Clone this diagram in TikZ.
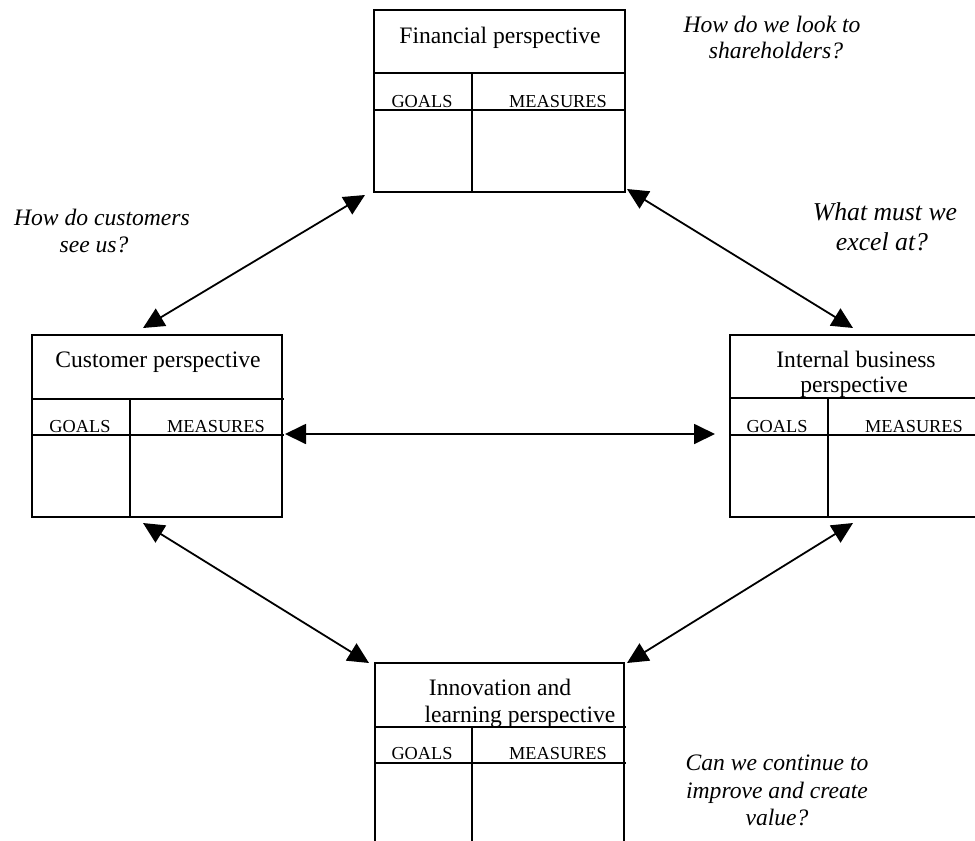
\documentclass[tikz,border=0pt]{standalone}
\usepackage{fontspec}
\setmainfont{Liberation Serif}
\usetikzlibrary{arrows.meta}
\begin{document}
\begin{tikzpicture}[x=1pt,y=-1pt,
  box/.style={draw,line width=1.8pt,inner sep=0pt,outer sep=0pt,anchor=north west},
  rule/.style={line width=1.8pt},
  head/.style={inner sep=0pt,anchor=base,font=\fontsize{23.6}{28}\selectfont},
  col/.style={inner sep=0pt,anchor=base,font=\fontsize{18.3}{22}\selectfont},
  ques/.style={inner sep=0pt,anchor=base,font=\fontsize{23.6}{28}\selectfont\itshape},
  bigques/.style={inner sep=0pt,anchor=base,font=\fontsize{25.7}{30}\selectfont\itshape},
  link/.style={line width=1.8pt,{Triangle[length=21pt,width=20pt]}-{Triangle[length=21pt,width=20pt]}}]
\useasboundingbox (0,0) rectangle (975,841);
\clip (0,0) rectangle (975,841);
\fill[white] (0,0) rectangle (975,841);

% boxes
\node[box,minimum width=251pt,minimum height=182pt] (fin) at (374,10) {};
\node[box,minimum width=250pt,minimum height=182pt] (cust) at (32,335) {};
\node[box,minimum width=262pt,minimum height=182pt] (int) at (730,335) {};
\node[box,minimum width=249pt,minimum height=200pt] (inn) at (375,663) {};

% financial inner rules
\draw[rule] ([shift={(0,63)}]fin.north west) -- ([shift={(1,63)}]fin.north east);
\draw[rule] ([shift={(0,100)}]fin.north west) -- ([shift={(1,100)}]fin.north east);
\draw[rule] ([shift={(98,63)}]fin.north west) -- ([shift={(98,0)}]fin.south west);
% customer inner rules
\draw[rule] ([shift={(0,64)}]cust.north west) -- ([shift={(2,64)}]cust.north east);
\draw[rule] ([shift={(0,100)}]cust.north west) -- ([shift={(2,100)}]cust.north east);
\draw[rule] ([shift={(98,64)}]cust.north west) -- ([shift={(98,0)}]cust.south west);
% internal inner rules
\draw[rule] ([shift={(0,63)}]int.north west) -- ([shift={(0,63)}]int.north east);
\draw[rule] ([shift={(0,100)}]int.north west) -- ([shift={(0,100)}]int.north east);
\draw[rule] ([shift={(98,63)}]int.north west) -- ([shift={(98,0)}]int.south west);
% innovation inner rules
\draw[rule] ([shift={(0,64)}]inn.north west) -- ([shift={(2,64)}]inn.north east);
\draw[rule] ([shift={(0,100)}]inn.north west) -- ([shift={(2,100)}]inn.north east);
\draw[rule] ([shift={(97,64)}]inn.north west) -- ([shift={(97,0)}]inn.south west);

% box texts
\node[head] (finT) at (500,43) {Financial perspective};
\node[col] (finG) at (422,107) {GOALS};
\node[col] (finM) at (558,107) {MEASURES};

\node[head] (custT) at (158,367) {Customer perspective};
\node[col] (custG) at (80,432) {GOALS};
\node[col] (custM) at (216,432) {MEASURES};

\node[head] (intT1) at (856,367) {Internal business};
\node[head] (intT2) at (854,392) {perspective};
\node[col] (intG) at (777,432) {GOALS};
\node[col] (intM) at (914,432) {MEASURES};

\node[head] (innT1) at (500,695) {Innovation and};
\node[head] (innT2) at (520,722) {learning perspective};
\node[col] (innG) at (422,759) {GOALS};
\node[col] (innM) at (558,759) {MEASURES};

% questions
\node[ques] (q1a) at (772,32) {How do we look to};
\node[ques] (q1b) at (776,58) {shareholders?};
\node[bigques] (q2a) at (885,220) {What must we};
\node[bigques] (q2b) at (882,250) {excel at?};
\node[ques] (q3a) at (102,225) {How do customers};
\node[ques] (q3b) at (94,252) {see us?};
\node[ques] (q4a) at (777,770) {Can we continue to};
\node[ques] (q4b) at (777,798) {improve and create};
\node[ques] (q4c) at (777,825) {value?};

% connectors
\draw[link] ([shift={(-9,3)}]fin.south west) -- ([shift={(111,-7)}]cust.north west);
\draw[link] ([shift={(2,-3)}]fin.south east) -- ([shift={(123,-7)}]int.north west);
\draw[link] ([shift={(3,99)}]cust.north east) -- ([shift={(-15,99)}]int.north west);
\draw[link] ([shift={(111,6)}]cust.south west) -- ([shift={(-6,0)}]inn.north west);
\draw[link] ([shift={(123,6)}]int.south west) -- ([shift={(3,0)}]inn.north east);
\end{tikzpicture}
\end{document}
